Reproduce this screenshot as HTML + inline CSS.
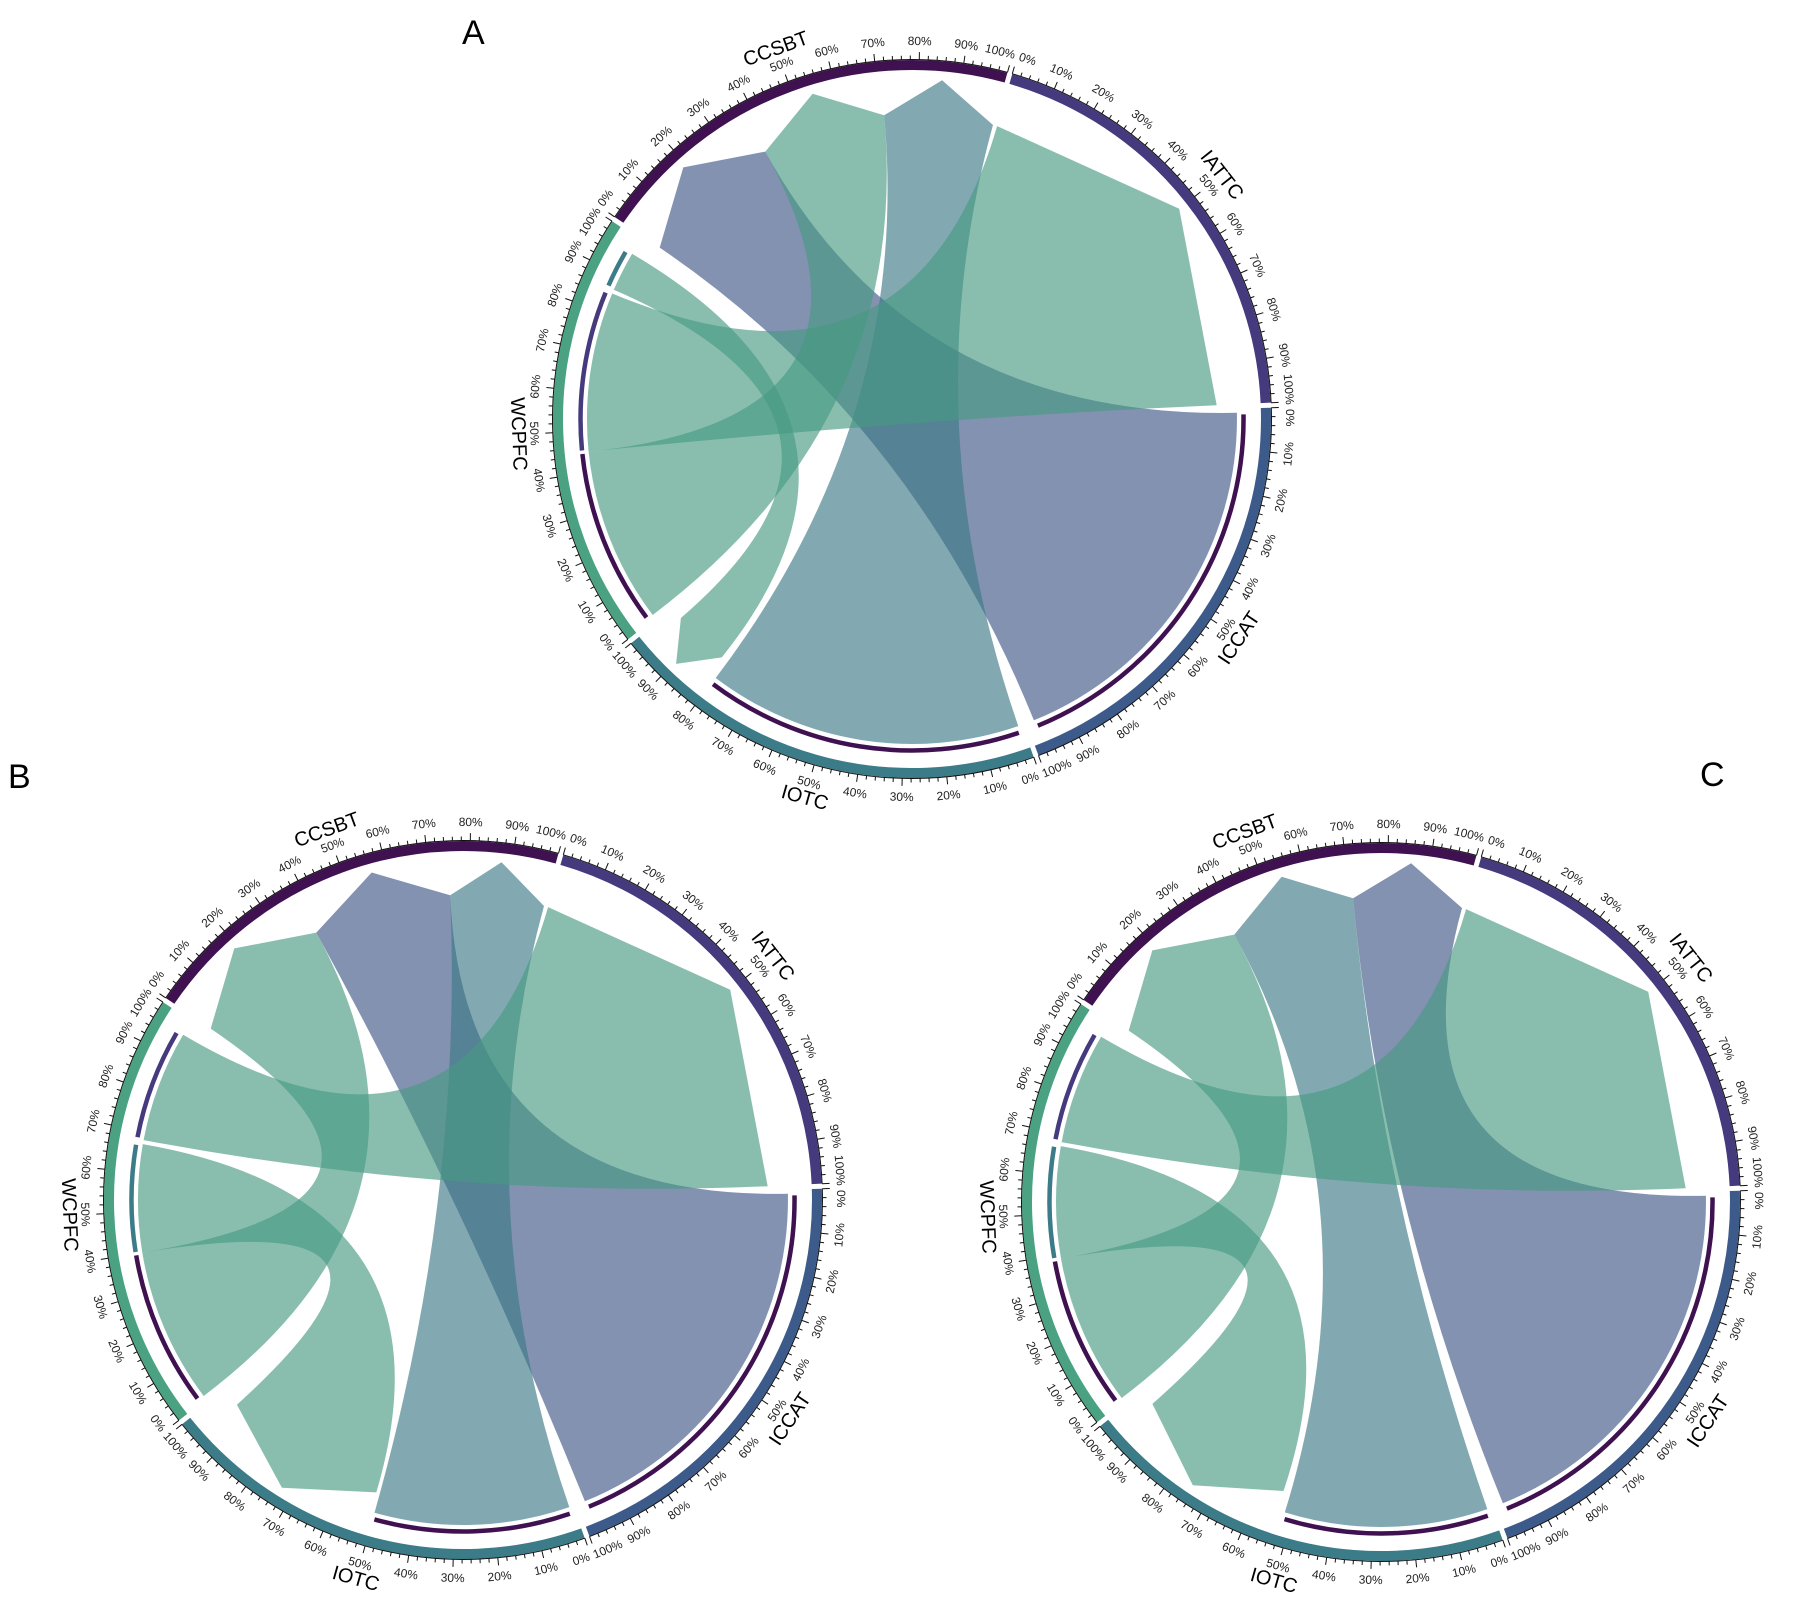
<!DOCTYPE html>
<html><head><meta charset="utf-8"><style>
html,body{margin:0;padding:0;background:#fff;}
svg{display:block;}
text{font-family:"Liberation Sans",sans-serif;}
</style></head>
<body>
<svg id="root" width="1794" height="1612" viewBox="0 0 1794 1612" xmlns="http://www.w3.org/2000/svg">
<text x="462" y="44" font-size="34">A</text>
<text x="8" y="788" font-size="34">B</text>
<text x="1700" y="786" font-size="34">C</text>
</svg>
<script>
const sectors = ["CCSBT","IATTC","ICCAT","IOTC","WCPFC"];
const sectorColors = ["#3f1150","#453a7e","#3d5b8a","#3c7b88","#4aa283"];
// Panel A
const A_src = ["CCSBT","CCSBT","CCSBT","IATTC","IOTC"];
const A_srcFrom = [0,38,71,0,82];
const A_srcTo = [38,71,100,100,97];
const A_tgt = ["ICCAT","WCPFC","IOTC","WCPFC","WCPFC"];
const A_tgtFrom = [1,1,1,45,86];
const A_tgtTo = [98,45,80,85,96];
// Panel B
const B_src = ["CCSBT","CCSBT","CCSBT","IATTC","IOTC"];
const B_srcFrom = [0,38,75,0,51];
const B_srcTo = [38,75,100,100,95];
const B_tgt = ["WCPFC","ICCAT","IOTC","WCPFC","WCPFC"];
const B_tgtFrom = [1,1,1,68,40];
const B_tgtTo = [40,98,50,96,67];
// Panel C
const C_src = ["CCSBT","CCSBT","CCSBT","IATTC","IOTC"];
const C_srcFrom = [0,38,71,0,54];
const C_srcTo = [38,71,100,100,96];
const C_tgt = ["WCPFC","IOTC","ICCAT","WCPFC","WCPFC"];
const C_tgtFrom = [1,1,1,68,39];
const C_tgtTo = [39,52,98,96,67];
const tickPcts = [0,10,20,30,40,50,60,70,80,90,100];

const chordColor = {ICCAT:"#3e5485", IOTC:"#3b7985", WCPFC:"#469982"};
const NS = "http://www.w3.org/2000/svg";
const root = document.getElementById("root");
function mk(tag, attrs, parent){const e=document.createElementNS(NS,tag);for(const k in attrs)e.setAttribute(k,attrs[k]);parent.appendChild(e);return e;}

function drawChart(cx, cy, name, src, sf, st, tgt, tf, tt){
  const g = mk("g",{},root);
  
  
  const START=304.2, STEP=72, SPAN=71.2;
  const ang=(s,p)=>START+STEP*sectors.indexOf(s)+SPAN*p/100;
  const pt=(a,r)=>{const t=a*Math.PI/180;return [cx+r*Math.sin(t), cy-r*Math.cos(t)];};
  const f=p=>p[0].toFixed(1)+","+p[1].toFixed(1);
  const arcPath=(a1,a2,r)=>"M"+f(pt(a1,r))+" A"+r+","+r+" 0 0 1 "+f(pt(a2,r));
  for(let i=0;i<src.length;i++){
    const a1=ang(src[i],sf[i]), a2=ang(src[i],st[i]);
    const b1=ang(tgt[i],tf[i]), b2=ang(tgt[i],tt[i]);
    const RS=305, RM=340, RT=325;
    const d="M"+f(pt(a1,RS))+" L"+f(pt((a1+a2)/2,RM))+" L"+f(pt(a2,RS))+
      " Q"+cx+","+cy+" "+f(pt(b1,RT))+" A"+RT+","+RT+" 0 0 1 "+f(pt(b2,RT))+
      " Q"+cx+","+cy+" "+f(pt(a1,RS))+" Z";
    const c=mk("path",{d:d,fill:chordColor[tgt[i]],"fill-opacity":"0.64"},g);
    
    
    const ring=mk("path",{d:arcPath(b1+0.3,b2-0.3,331.5),fill:"none",stroke:sectorColors[sectors.indexOf(src[i])],"stroke-width":"4.5"},g);
    
    
  }
  sectors.forEach((s,k)=>{
    const a1=ang(s,0), a2=ang(s,100);
    const tr=mk("path",{d:arcPath(a1,a2,354),fill:"none",stroke:sectorColors[k],"stroke-width":"10"},g);
    
    
    const base=mk("path",{d:arcPath(a1,a2,359.5),fill:"none",stroke:"#111","stroke-width":"1"},g);
    
    
    let td="";
    for(let p=0;p<=100;p+=2){
      const a=ang(s,p), major=(p%10===0);
      td+="M"+f(pt(a,359.5))+" L"+f(pt(a,major?367:363.5))+" ";
    }
    const tk=mk("path",{d:td,stroke:"#111","stroke-width":"1",fill:"none"},g);
    
    
    tickPcts.forEach(p=>{
      let a=ang(s,p);
      if(p===0) a+=1.6;
      if(p===100) a-=1.9;
      const [x,y]=pt(a,378);
      let n=((a%360)+360)%360; const rot=(n>=90&&n<=270)?n-180:n;
      const t=mk("text",{x:x.toFixed(1),y:y.toFixed(1),"font-size":"12","fill":"#222","text-anchor":"middle","dominant-baseline":"central",transform:"rotate("+rot.toFixed(1)+" "+x.toFixed(1)+" "+y.toFixed(1)+")"},g);
      t.textContent=p+"%";
      
      
    });
    const am=ang(s,50); const [lx,ly]=pt(am,394);
    let n=((am%360)+360)%360; const rot=(n>=90&&n<=270)?n-180:n;
    const lb=mk("text",{x:lx.toFixed(1),y:ly.toFixed(1),"font-size":"20","fill":"#000","text-anchor":"middle","dominant-baseline":"central",transform:"rotate("+rot.toFixed(1)+" "+lx.toFixed(1)+" "+ly.toFixed(1)+")"},g);
    lb.textContent=s;
    
    
  });
}
drawChart(912,419,"chord-diagram-a",A_src,A_srcFrom,A_srcTo,A_tgt,A_tgtFrom,A_tgtTo);
drawChart(463,1200,"chord-diagram-b",B_src,B_srcFrom,B_srcTo,B_tgt,B_tgtFrom,B_tgtTo);
drawChart(1381,1202,"chord-diagram-c",C_src,C_srcFrom,C_srcTo,C_tgt,C_tgtFrom,C_tgtTo);
</script>
</body></html>
